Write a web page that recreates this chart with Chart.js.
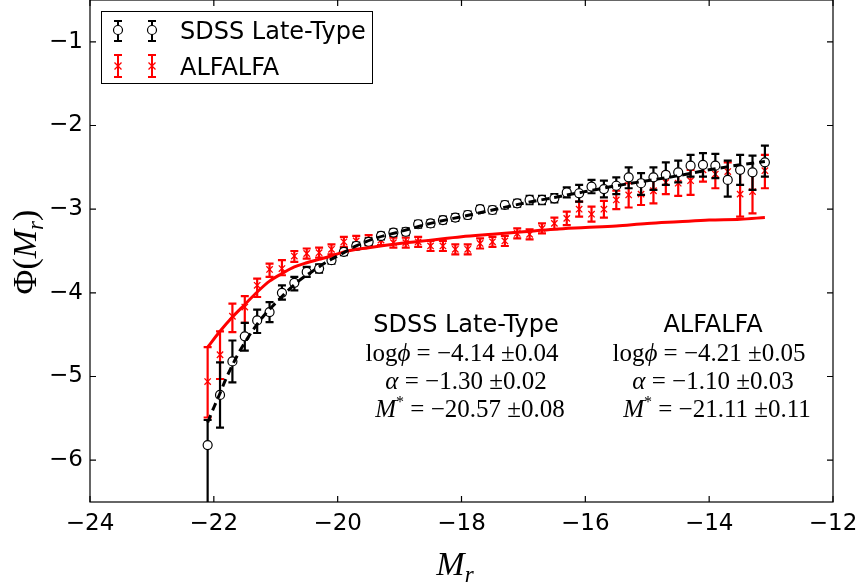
<!DOCTYPE html>
<html>
<head>
<meta charset="utf-8">
<script src="https://cdn.jsdelivr.net/npm/chart.js@4.4.1/dist/chart.umd.min.js"></script>
<style>
html, body { margin: 0; padding: 0; background: #fff; }
#wrap { width: 864px; height: 583px; }
</style>
</head>
<body>
<div id="wrap"><canvas id="lfChart" width="864" height="583"></canvas></div>
<script>
// magnitude bins (same for both samples)
const magBins = [-22.1, -21.9, -21.7, -21.5, -21.3, -21.1, -20.9, -20.7, -20.5, -20.3,
    -20.1, -19.9, -19.7, -19.5, -19.3, -19.1, -18.9, -18.7, -18.5, -18.3,
    -18.1, -17.9, -17.7, -17.5, -17.3, -17.1, -16.9, -16.7, -16.5, -16.3,
    -16.1, -15.9, -15.7, -15.5, -15.3, -15.1, -14.9, -14.7, -14.5, -14.3,
    -14.1, -13.9, -13.7, -13.5, -13.3, -13.1];

// SDSS late-type LF (log Phi) with lower / upper error sizes
const sdssPhi = [-5.82, -5.22, -4.82, -4.52, -4.33, -4.23, -4.00, -3.88, -3.75, -3.71,
    -3.61, -3.51, -3.44, -3.39, -3.32, -3.28, -3.27, -3.18, -3.17, -3.13,
    -3.10, -3.07, -3.00, -3.01, -2.95, -2.93, -2.89, -2.89, -2.87, -2.80,
    -2.81, -2.73, -2.76, -2.72, -2.62, -2.69, -2.62, -2.59, -2.56, -2.48,
    -2.47, -2.48, -2.65, -2.53, -2.56, -2.44];
const sdssErrDn = [1.50, 0.39, 0.25, 0.17, 0.15, 0.12, 0.08, 0.09, 0.06, 0.05,
    0.04, 0.04, 0.04, 0.04, 0.04, 0.04, 0.04, 0.04, 0.04, 0.04,
    0.04, 0.04, 0.04, 0.04, 0.04, 0.04, 0.05, 0.05, 0.05, 0.06,
    0.10, 0.08, 0.10, 0.10, 0.13, 0.14, 0.15, 0.12, 0.12, 0.13,
    0.14, 0.15, 0.20, 0.18, 0.21, 0.17];
const sdssErrUp = [0.30, 0.39, 0.25, 0.16, 0.13, 0.12, 0.09, 0.07, 0.06, 0.05,
    0.04, 0.04, 0.04, 0.04, 0.04, 0.04, 0.04, 0.04, 0.04, 0.04,
    0.04, 0.04, 0.04, 0.04, 0.04, 0.04, 0.05, 0.05, 0.05, 0.06,
    0.10, 0.08, 0.10, 0.10, 0.12, 0.12, 0.12, 0.15, 0.14, 0.13,
    0.14, 0.14, 0.23, 0.18, 0.20, 0.20];

// ALFALFA LF
const alfaPhi = [-5.06, -4.74, -4.28, -4.17, -3.91, -3.72, -3.71, -3.56, -3.53, -3.52,
    -3.48, -3.39, -3.38, -3.37, -3.37, -3.40, -3.40, -3.39, -3.44, -3.44,
    -3.48, -3.48, -3.41, -3.39, -3.38, -3.29, -3.30, -3.23, -3.17, -3.11,
    -3.00, -3.06, -3.00, -2.89, -2.83, -2.82, -2.78, -2.68, -2.69, -2.66,
    -2.53, -2.58, -2.55, -2.82, -2.79, -2.54];
const alfaErrDn = [0.43, 0.29, 0.19, 0.19, 0.14, 0.09, 0.08, 0.07, 0.06, 0.06,
    0.06, 0.06, 0.06, 0.06, 0.06, 0.06, 0.06, 0.06, 0.06, 0.06,
    0.06, 0.06, 0.06, 0.06, 0.06, 0.06, 0.06, 0.06, 0.07, 0.08,
    0.09, 0.09, 0.10, 0.11, 0.15, 0.13, 0.15, 0.14, 0.15, 0.17,
    0.14, 0.17, 0.11, 0.27, 0.26, 0.21];
const alfaErrUp = [0.41, 0.28, 0.15, 0.13, 0.08, 0.07, 0.10, 0.06, 0.06, 0.06,
    0.06, 0.06, 0.06, 0.06, 0.06, 0.06, 0.06, 0.06, 0.06, 0.06,
    0.06, 0.06, 0.06, 0.06, 0.06, 0.06, 0.06, 0.06, 0.07, 0.08,
    0.09, 0.09, 0.10, 0.11, 0.14, 0.13, 0.14, 0.12, 0.13, 0.13,
    0.08, 0.12, 0.11, 0.28, 0.22, 0.19];

// Schechter fits
const sdssFitM = [-22.1, -22.0, -21.9, -21.8, -21.6, -21.4, -21.2, -21.0, -20.8, -20.6,
    -20.4, -20.2, -20.0, -19.7, -19.4, -19.0, -18.5, -18.0, -17.5, -17.0,
    -16.5, -16.0, -15.5, -15.0, -14.5, -14.0, -13.5, -13.1];
const sdssFitPhi = [-5.55, -5.37, -5.20, -5.02, -4.72, -4.48, -4.28, -4.12, -3.97, -3.84,
    -3.74, -3.64, -3.56, -3.44, -3.35, -3.27, -3.17, -3.09, -3.01, -2.93,
    -2.86, -2.79, -2.72, -2.66, -2.60, -2.53, -2.47, -2.43];
const alfaFitM = [-22.1, -21.9, -21.7, -21.5, -21.3, -21.1, -20.9, -20.7, -20.5, -20.3,
    -20.1, -19.9, -19.5, -19.0, -18.5, -18.0, -17.5, -17.0, -16.5, -16.0,
    -15.5, -15.0, -14.5, -14.0, -13.5, -13.1];
const alfaFitPhi = [-4.65, -4.46, -4.29, -4.14, -3.99, -3.86, -3.77, -3.69, -3.64, -3.60,
    -3.56, -3.51, -3.46, -3.41, -3.37, -3.33, -3.30, -3.27, -3.24, -3.22,
    -3.20, -3.17, -3.15, -3.13, -3.12, -3.10];

const xTicks = [-24, -22, -20, -18, -16, -14, -12];
const yTicks = [-6, -5, -4, -3, -2, -1];

const fitText = {
    sdss: ['SDSS Late-Type', '\u22124.14', '0.04', '\u22121.30', '0.02', '\u221220.57', '0.08'],
    alfa: ['ALFALFA', '\u22124.21', '0.05', '\u22121.10', '0.03', '\u221221.11', '0.11']
};

const SANS = 'DejaVu Sans';
const SERIF = 'Liberation Serif';

function toPts(xs, ys) {
    return xs.map((x, i) => ({x: x, y: ys[i]}));
}

function minusFmt(v) {
    return String(v).replace('-', '\u2212');
}

// draw the vertical error bars for one dataset
function drawErrorBars(chart, ys, dn, up, color, lw) {
    const ctx = chart.ctx, sx = chart.scales.x, sy = chart.scales.y, a = chart.chartArea;
    ctx.save();
    ctx.beginPath();
    ctx.rect(a.left, a.top, a.right - a.left, a.bottom - a.top);
    ctx.clip();
    ctx.strokeStyle = color;
    ctx.lineWidth = lw;
    for (let i = 0; i < magBins.length; i++) {
        const px = sx.getPixelForValue(magBins[i]);
        const top = sy.getPixelForValue(ys[i] + up[i]);
        const bot = sy.getPixelForValue(ys[i] - dn[i]);
        ctx.beginPath();
        ctx.moveTo(px, top); ctx.lineTo(px, bot);
        ctx.moveTo(px - 4, top); ctx.lineTo(px + 4, top);
        ctx.moveTo(px - 4, bot); ctx.lineTo(px + 4, bot);
        ctx.stroke();
    }
    ctx.restore();
}

function drawCircle(ctx, x, y) {
    ctx.beginPath();
    ctx.arc(x, y, 4.5, 0, Math.PI * 2);
    ctx.fillStyle = '#fff';
    ctx.fill();
    ctx.strokeStyle = '#000';
    ctx.lineWidth = 1.2;
    ctx.stroke();
}

function drawCross(ctx, x, y) {
    ctx.beginPath();
    ctx.moveTo(x - 3.5, y - 3.5); ctx.lineTo(x + 3.5, y + 3.5);
    ctx.moveTo(x - 3.5, y + 3.5); ctx.lineTo(x + 3.5, y - 3.5);
    ctx.strokeStyle = 'red';
    ctx.lineWidth = 1.3;
    ctx.stroke();
}

// pieces of text with own fonts, centred on cx
function drawRich(ctx, parts, cx, cy) {
    let w = 0;
    parts.forEach(p => { ctx.font = p[1]; w += ctx.measureText(p[0]).width; });
    let x = cx - w / 2;
    ctx.textAlign = 'left';
    ctx.textBaseline = 'alphabetic';
    parts.forEach(p => {
        ctx.font = p[1];
        ctx.fillText(p[0], x, cy + (p[2] || 0));
        x += ctx.measureText(p[0]).width;
    });
}

function drawFitBlock(ctx, t, cx) {
    ctx.fillStyle = '#000';
    ctx.font = '24px "' + SANS + '"';
    ctx.textAlign = 'center';
    ctx.textBaseline = 'alphabetic';
    ctx.fillText(t[0], cx, 332);
    const rm = '25px "' + SERIF + '"', it = 'italic 25px "' + SERIF + '"', sup = '16px "' + SERIF + '"';
    drawRich(ctx, [['log', rm], ['\u03d5', it], [' = ' + t[1] + ' \u00b1' + t[2], rm]], cx - 4, 361);
    drawRich(ctx, [['\u03b1', it], [' = ' + t[3] + ' \u00b1' + t[4], rm]], cx, 389);
    drawRich(ctx, [['M', it], ['*', sup, -10], [' = ' + t[5] + ' \u00b1' + t[6], rm]], cx + 4, 417);
}

const decorPlugin = {
    id: 'decor',
    beforeDatasetDraw(chart, args) {
        if (args.index === 2) drawErrorBars(chart, sdssPhi, sdssErrDn, sdssErrUp, '#000', 2.2);
        if (args.index === 3) drawErrorBars(chart, alfaPhi, alfaErrDn, alfaErrUp, 'red', 2.2);
    },
    afterDraw(chart) {
        const ctx = chart.ctx, a = chart.chartArea, sx = chart.scales.x, sy = chart.scales.y;
        ctx.save();
        // frame and inward ticks on all sides
        ctx.strokeStyle = '#000';
        ctx.lineWidth = 1.2;
        ctx.strokeRect(a.left, a.top, a.right - a.left, a.bottom - a.top);
        ctx.beginPath();
        xTicks.forEach(v => {
            const px = sx.getPixelForValue(v);
            ctx.moveTo(px, a.bottom); ctx.lineTo(px, a.bottom - 6);
            ctx.moveTo(px, a.top); ctx.lineTo(px, a.top + 6);
        });
        yTicks.forEach(v => {
            const py = sy.getPixelForValue(v);
            ctx.moveTo(a.left, py); ctx.lineTo(a.left + 6, py);
            ctx.moveTo(a.right, py); ctx.lineTo(a.right - 6, py);
        });
        ctx.stroke();

        // axis titles
        ctx.fillStyle = '#000';
        drawRich(ctx, [['M', 'italic 34px "' + SERIF + '"'], ['r', 'italic 23px "' + SERIF + '"', 7]], 455, 575);
        ctx.save();
        ctx.translate(36, 252);
        ctx.rotate(-Math.PI / 2);
        drawRich(ctx, [['\u03a6(', '34px "' + SERIF + '"'], ['M', 'italic 34px "' + SERIF + '"'],
            ['r', 'italic 23px "' + SERIF + '"', 7], [')', '34px "' + SERIF + '"']], 0, 0);
        ctx.restore();

        // fit parameter blocks
        drawFitBlock(ctx, fitText.sdss, 466);
        drawFitBlock(ctx, fitText.alfa, 713);

        // legend box
        ctx.fillStyle = '#fff';
        ctx.fillRect(101, 11, 271, 72);
        ctx.strokeStyle = '#000';
        ctx.lineWidth = 1;
        ctx.strokeRect(101.5, 11.5, 271, 72);
        [118, 152].forEach(lx => {
            ctx.strokeStyle = '#000';
            ctx.lineWidth = 2;
            ctx.beginPath();
            ctx.moveTo(lx, 21); ctx.lineTo(lx, 41);
            ctx.moveTo(lx - 4, 21); ctx.lineTo(lx + 4, 21);
            ctx.moveTo(lx - 4, 41); ctx.lineTo(lx + 4, 41);
            ctx.stroke();
            drawCircle(ctx, lx, 30);
            ctx.strokeStyle = 'red';
            ctx.lineWidth = 2;
            ctx.beginPath();
            ctx.moveTo(lx, 55); ctx.lineTo(lx, 77);
            ctx.moveTo(lx - 4, 55); ctx.lineTo(lx + 4, 55);
            ctx.moveTo(lx - 4, 77); ctx.lineTo(lx + 4, 77);
            ctx.stroke();
            drawCross(ctx, lx, 66);
        });
        ctx.fillStyle = '#000';
        ctx.font = '24px "' + SANS + '"';
        ctx.textAlign = 'left';
        ctx.textBaseline = 'alphabetic';
        ctx.fillText('SDSS Late-Type', 180, 39);
        ctx.fillText('ALFALFA', 180, 75);
        ctx.restore();
    }
};

const ctx = document.getElementById('lfChart').getContext('2d');

const chart = new Chart(ctx, {
    type: 'scatter',
    data: {
        datasets: [{
            label: 'SDSS fit',
            type: 'line',
            data: toPts(sdssFitM, sdssFitPhi),
            borderColor: '#000',
            borderWidth: 3,
            borderDash: [8, 5],
            pointRadius: 0,
            cubicInterpolationMode: 'monotone',
            fill: false
        }, {
            label: 'ALFALFA fit',
            type: 'line',
            data: toPts(alfaFitM, alfaFitPhi),
            borderColor: 'red',
            borderWidth: 3,
            pointRadius: 0,
            cubicInterpolationMode: 'monotone',
            fill: false
        }, {
            label: 'SDSS Late-Type',
            data: toPts(magBins, sdssPhi),
            pointStyle: 'circle',
            pointRadius: 4.5,
            backgroundColor: '#fff',
            borderColor: '#000',
            borderWidth: 1.2
        }, {
            label: 'ALFALFA',
            data: toPts(magBins, alfaPhi),
            pointStyle: 'crossRot',
            pointRadius: 4.5,
            borderColor: 'red',
            borderWidth: 1.3
        }]
    },
    options: {
        responsive: false,
        animation: false,
        devicePixelRatio: 1,
        layout: {autoPadding: false, padding: {left: 0, right: 31, top: 0, bottom: 0}},
        plugins: {
            legend: {display: false},
            tooltip: {enabled: false}
        },
        scales: {
            x: {
                type: 'linear',
                min: -24,
                max: -12,
                afterBuildTicks: s => { s.ticks = xTicks.map(v => ({value: v})); },
                afterFit: s => { s.height = 81; s.paddingLeft = 0; s.paddingRight = 0; },
                grid: {display: false, drawTicks: false},
                border: {display: false},
                ticks: {
                    color: '#000',
                    padding: 8,
                    maxRotation: 0,
                    font: {family: SANS, size: 23},
                    callback: v => minusFmt(v)
                }
            },
            y: {
                type: 'linear',
                min: -6.5,
                max: -0.5,
                afterBuildTicks: s => { s.ticks = yTicks.map(v => ({value: v})); },
                afterFit: s => { s.width = 90; s.paddingTop = 0; s.paddingBottom = 0; },
                grid: {display: false, drawTicks: false},
                border: {display: false},
                ticks: {
                    color: '#000',
                    padding: 7,
                    font: {family: SANS, size: 23},
                    callback: v => minusFmt(v)
                }
            }
        }
    },
    plugins: [decorPlugin]
});
</script>
</body>
</html>
